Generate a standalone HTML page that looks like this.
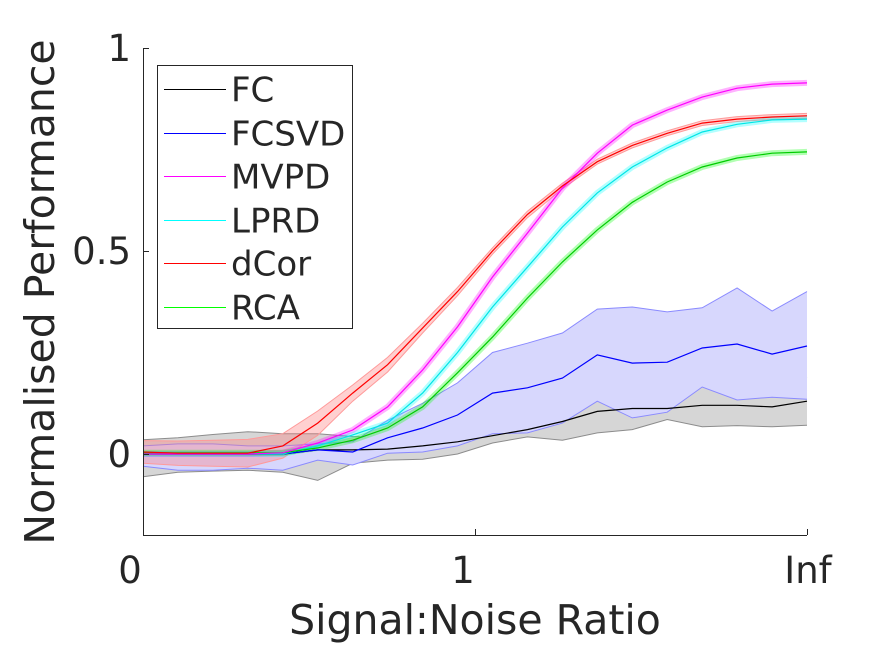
<!DOCTYPE html>
<html><head><meta charset="utf-8"><style>
body{margin:0;background:#fff}
svg text{font-family:"DejaVu Sans","Liberation Sans",sans-serif;fill:#262626}
</style></head><body>
<svg id="chart" width="891" height="645" xmlns="http://www.w3.org/2000/svg">
<g id="bands"></g><g id="lines"></g><g id="axes"></g><g id="legend"></g>
</svg>
<script>
const xTickLabels=["0","1","Inf"];
const yTicks=[0,0.5,1];
const fcMean=[0,0,0,0,0,0.01,0.01,0.012,0.02,0.03,0.045,0.06,0.08,0.105,0.112,0.112,0.12,0.12,0.116,0.13];
const fcLow=[-0.056,-0.045,-0.042,-0.04,-0.045,-0.065,-0.023,-0.015,-0.013,0,0.027,0.042,0.034,0.052,0.06,0.085,0.067,0.07,0.067,0.071];
const fcHigh=[0.035,0.04,0.048,0.055,0.05,0.05,0.043,0.04,0.053,0.06,0.063,0.078,0.126,0.158,0.164,0.139,0.173,0.17,0.165,0.19];
const svdMean=[0,0,0,0,0,0.01,0.005,0.04,0.064,0.096,0.15,0.163,0.187,0.244,0.224,0.226,0.261,0.271,0.246,0.266];
const svdLow=[-0.03,-0.04,-0.04,-0.035,-0.04,-0.015,-0.027,0.002,0.005,0.02,0.05,0.052,0.076,0.13,0.089,0.103,0.165,0.133,0.14,0.135];
const svdHigh=[0.02,0.025,0.025,0.02,0.02,0.025,0.03,0.083,0.125,0.175,0.25,0.273,0.298,0.357,0.362,0.35,0.36,0.409,0.352,0.4];
const mvpd=[0,0,0,0,0.003,0.027,0.059,0.116,0.207,0.313,0.436,0.544,0.655,0.741,0.81,0.847,0.879,0.901,0.911,0.914];
const lprd=[0,0,0,0,0,0.02,0.047,0.076,0.15,0.25,0.362,0.46,0.559,0.643,0.707,0.754,0.793,0.812,0.823,0.825];
const dcor=[0.005,0.002,0.002,0.002,0.02,0.076,0.15,0.22,0.31,0.4,0.5,0.59,0.66,0.72,0.76,0.79,0.815,0.825,0.83,0.833];
const dcorErr=[0.028,0.03,0.032,0.034,0.03,0.03,0.02,0.018,0.012,0.01,0.008,0.008,0.007,0.006,0.006,0.006,0.006,0.006,0.006,0.006];
const rca=[0.003,0.003,0.003,0.003,0.003,0.015,0.034,0.064,0.116,0.2,0.288,0.384,0.473,0.552,0.62,0.67,0.707,0.729,0.741,0.744];
const legendNames=["FC","FCSVD","MVPD","LPRD","dCor","RCA"];
const legendColors=["#000000","#0000ff","#ff00ff","#00ffff","#ff0000","#00ff00"];

const X0=143,X1=807,Y0=454,YS=406;
const n=fcMean.length;
const xs=i=>X0+i*(X1-X0)/(n-1);
const ys=v=>Y0-v*YS;
const NS="http://www.w3.org/2000/svg";
function mk(tag,attrs,parent){const e=document.createElementNS(NS,tag);for(const k in attrs)e.setAttribute(k,attrs[k]);parent.appendChild(e);return e;}
const bands=document.getElementById('bands'),lines=document.getElementById('lines'),axes=document.getElementById('axes'),legend=document.getElementById('legend');
function pts(arr){return arr.map((v,i)=>xs(i).toFixed(1)+','+ys(v).toFixed(1)).join(' ');}
function band(lo,hi,fill,stroke,name){
  const p=pts(lo)+' '+hi.map((v,i)=>[i,v]).reverse().map(([i,v])=>xs(i).toFixed(1)+','+ys(v).toFixed(1)).join(' ');
  const e=mk('polygon',{points:p,fill:fill,stroke:'none'},bands);
  
  
  const a=mk('polyline',{points:pts(lo),fill:'none',stroke:stroke,'stroke-width':1},bands);
  
  
  const b=mk('polyline',{points:pts(hi),fill:'none',stroke:stroke,'stroke-width':1},bands);
  
  
}
function line(arr,color,name){
  const e=mk('polyline',{points:pts(arr),fill:'none',stroke:color,'stroke-width':1.2},lines);
  
  
}
band(fcLow,fcHigh,'#d6d6d6','#8c8c8c','fc');
band(svdLow,svdHigh,'#d7d7fd','#8a8aff','fcsvd');
band(dcor.map((v,i)=>v-dcorErr[i]),dcor.map((v,i)=>v+dcorErr[i]),'rgba(255,120,120,0.35)','#ff9a9a','dcor');
const thin=[[mvpd,'rgba(255,0,255,0.3)','mvpd'],[lprd,'rgba(0,255,255,0.3)','lprd'],[rca,'rgba(0,255,0,0.3)','rca']];
thin.forEach(([a,c,nm])=>{
  const e=mk('polyline',{points:pts(a),fill:'none',stroke:c,'stroke-width':6},bands);
  
  
});
line(fcMean,'#000','fc');
line(svdMean,'#0000ff','fcsvd');
line(lprd,'#00e5e5','lprd');
line(rca,'#00cc00','rca');
line(mvpd,'#ff00ff','mvpd');
line(dcor,'#ff0000','dcor');

// axes
const la=mk('line',{x1:X0+0.5,y1:48,x2:X0+0.5,y2:535,stroke:'#262626','stroke-width':1},axes);


const ba=mk('line',{x1:X0,y1:535.5,x2:X1,y2:535.5,stroke:'#262626','stroke-width':1},axes);


yTicks.forEach(v=>{
  const t=mk('line',{x1:X0,y1:ys(v)+0.5,x2:X0+6,y2:ys(v)+0.5,stroke:'#262626'},axes);
  
  
  const l=mk('text',{x:131,y:ys(v)+13,'text-anchor':'end','font-size':37},axes);
  l.textContent=String(v);
  
  
});
xTickLabels.forEach((s,i)=>{
  const x=X0+i*(X1-X0)/(xTickLabels.length-1);
  const t=mk('line',{x1:x+0.5,y1:535,x2:x+0.5,y2:529,stroke:'#262626'},axes);
  
  
  const l=mk('text',{x:x-(i==0?13:i==1?12:-1),y:583,'text-anchor':'middle','font-size':37},axes);
  l.textContent=s;
  
  
});
const xl=mk('text',{x:475,y:634,'text-anchor':'middle','font-size':41},axes);
xl.textContent='Signal:Noise Ratio';


const yl=mk('text',{x:0,y:0,'text-anchor':'middle','font-size':41,transform:'translate(54,292) rotate(-90)'},axes);
yl.textContent='Normalised Performance';



// legend
const box=mk('rect',{x:157.5,y:65.5,width:195,height:263,fill:'#fff',stroke:'#262626','stroke-width':1},legend);


legendNames.forEach((nm,i)=>{
  const y=Math.round(89+i*43.5)+0.5;
  const l=mk('line',{x1:164,y1:y,x2:226,y2:y,stroke:legendColors[i],'stroke-width':1},legend);
  
  
  const t=mk('text',{x:231,y:y+12,'font-size':34,fill:'#000'},legend);
  t.textContent=nm;
  
  
});
</script>
</body></html>
